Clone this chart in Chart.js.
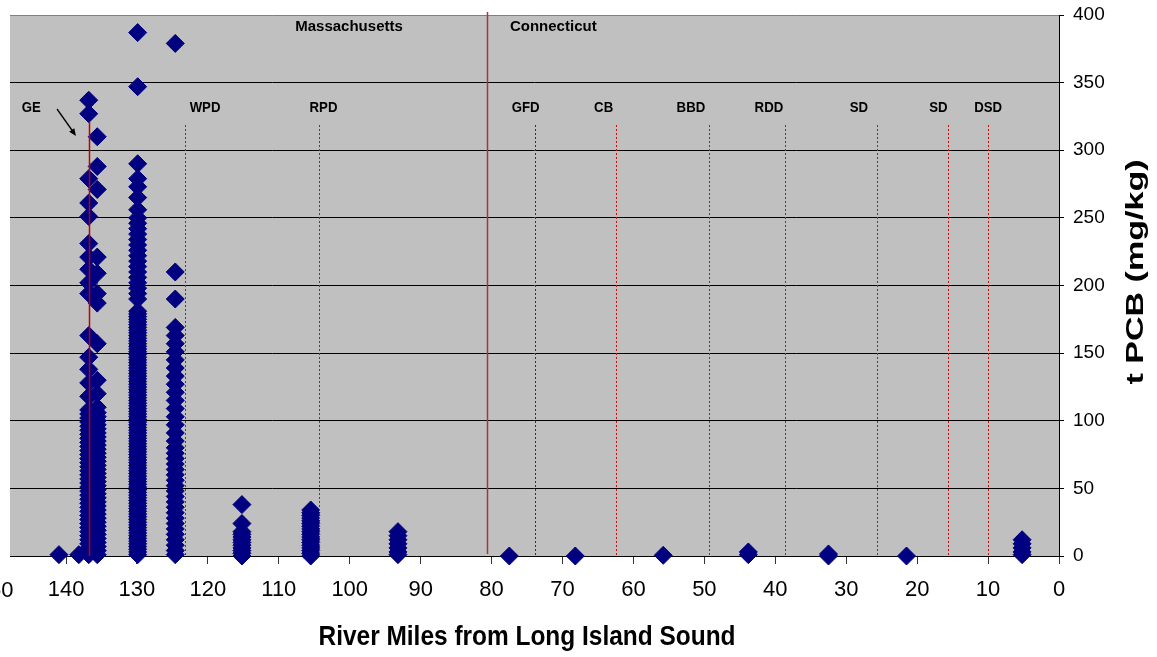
<!DOCTYPE html>
<html><head><meta charset="utf-8">
<script src="https://cdn.jsdelivr.net/npm/chart.js@4.4.1/dist/chart.umd.min.js"></script>
<style>html,body{margin:0;padding:0;background:#fff;}canvas{display:block;}</style>
</head><body>
<canvas id="c" width="1157" height="657"></canvas>
<script>
// ---- Data (river mile of each sampling station, tPCB values mg/kg) ----
const stationMiles = [141.0, 138.2, 136.8, 135.6, 129.9, 124.6, 115.2, 105.5, 93.2, 77.5, 68.2, 55.8, 43.8, 32.5, 21.5, 5.2];
const pcbRM141 = [1];
const pcbRM138 = [1];
const pcbRM137a = [337,327,279,261,251,231,221,212,202,194,163,147,138,128,118,108,105,102,99,96,93,90,87,84,81,78,75,72,69,66,63,60,57,54,51,48,45,42,39,36,33,30,27,24,21,18,15,12,9,6,3,1];
const pcbRM136b = [310,288,271,221,209,194,187,157,130,120,110,106,103,100,97,94,91,88,85,82,79,76,73,70,67,64,61,58,55,52,49,46,43,40,37,34,31,28,25,22,19,16,13,10,7,4,1];
const pcbRM130 = [387,347,290,279,273,265,256,250,246,242,238,234,230,226,222,218,214,210,206,202,198,194,190,181,179,177,175,173,171,169,167,165,163,161,159,157,155,153,151,149,147,145,143,141,139,137,135,133,131,129,127,125,123,121,119,117,115,113,111,109,107,105,103,101,99,97,95,93,91,89,87,85,83,81,79,77,75,73,71,69,67,65,63,61,59,57,55,53,51,49,47,45,43,41,39,37,35,33,31,29,27,25,23,21,19,17,15,13,11,9,7,5,3,1];
const pcbRM125 = [379,210,190,169,163,157,151,145,139,133,127,121,115,109,103,97,91,85,80,76,72,68,64,60,56,52,48,44,40,36,32,28,24,20,16,12,8,4,1];
const pcbRM115 = [38,24,18,16,14,12,10,8,6,4,2,0];
const pcbRM105 = [34,32,30,28,26,24,22,20,18,16,14,12,10,8,6,4,2,0];
const pcbRM93 = [18,15,12,9,6,3,1];
const pcbRM77 = [0];
const pcbRM68 = [0];
const pcbRM56 = [0.5];
const pcbRM44 = [1,3];
const pcbRM32 = [0,1.5];
const pcbRM21 = [0];
const pcbRM5 = [12,9,6,3,1];
const stationValues = [pcbRM141,pcbRM138,pcbRM137a,pcbRM136b,pcbRM130,pcbRM125,pcbRM115,pcbRM105,pcbRM93,pcbRM77,pcbRM68,pcbRM56,pcbRM44,pcbRM32,pcbRM21,pcbRM5];

// axis ticks
const xTickLabels = [0,10,20,30,40,50,60,70,80,90,100,110,120,130,140,150];
const yTickLabels = [0,50,100,150,200,250,300,350,400];

// reference lines / labels (river miles)
const geMile = 136.8;
const stateLineMile = 80.6;
const damLineMiles = [123.2, 104.4, 73.9, 62.5, 49.4, 38.6, 25.6, 15.6, 10.0];
const damLabels = ['GE','WPD','RPD','GFD','CB','BBD','RDD','SD','SD','DSD'];
const damLabelMiles = [144.9, 120.4, 103.7, 75.2, 64.2, 51.9, 40.9, 28.2, 17.0, 10.0];
const stateLabels = ['Massachusetts','Connecticut'];
const stateLabelMiles = [100.1, 71.3];

const points = [];
stationMiles.forEach((m,i)=>stationValues[i].forEach(v=>points.push({x:m,y:v})));

const SANS = "'Liberation Sans', Arial, sans-serif";

function drawScaled(ctx, text, x, y, font, sx, rot){
  ctx.save(); ctx.font = font; ctx.translate(x,y); if(rot) ctx.rotate(rot);
  ctx.scale(sx,1); ctx.textAlign='center'; ctx.textBaseline='middle'; ctx.fillStyle='#000';
  ctx.fillText(text,0,0); ctx.restore();
}
function drawFit(ctx, text, x, y, font, width, rot){
  ctx.save(); ctx.font = font; const w = ctx.measureText(text).width; ctx.restore();
  drawScaled(ctx, text, x, y, font, width/w, rot);
}

const overlay = {
  id:'overlay',
  beforeDraw(chart){
    const {ctx, chartArea:a} = chart;
    ctx.save(); ctx.fillStyle='#C0C0C0';
    ctx.fillRect(a.left, a.top, a.right-a.left, a.bottom-a.top); ctx.restore();
  },
  afterDatasetsDraw(chart){
    const {ctx, chartArea:a, scales:{x,y}} = chart;
    ctx.save();
    ctx.lineWidth = 1; ctx.setLineDash([2,2]);
    damLineMiles.forEach((m,i)=>{
      const px = Math.round(x.getPixelForValue(m))+0.5;
      ctx.strokeStyle = (i===2) ? '#333333' : '#CC1010';
      ctx.beginPath(); ctx.moveTo(px, Math.round(y.getPixelForValue(319))); ctx.lineTo(px, a.bottom); ctx.stroke();
    });
    ctx.setLineDash([]);
    let px = Math.round(x.getPixelForValue(geMile))+0.5;
    ctx.strokeStyle='#C00000'; ctx.lineWidth=1.5;
    ctx.beginPath(); ctx.moveTo(px, y.getPixelForValue(321)); ctx.lineTo(px, a.bottom); ctx.stroke();
    px = Math.round(x.getPixelForValue(stateLineMile))+0.5;
    ctx.strokeStyle='#A03A3A'; ctx.lineWidth=1.5;
    ctx.beginPath(); ctx.moveTo(px, a.top-3); ctx.lineTo(px, a.bottom-2); ctx.stroke();
    const ax0 = 57, ay0 = 109, ax1 = 76, ay1 = 136;
    ctx.strokeStyle='#000'; ctx.fillStyle='#000'; ctx.lineWidth=1.3;
    ctx.beginPath(); ctx.moveTo(ax0,ay0); ctx.lineTo(ax1-2,ay1-3); ctx.stroke();
    const ang = Math.atan2(ay1-ay0, ax1-ax0);
    ctx.beginPath(); ctx.moveTo(ax1,ay1);
    ctx.lineTo(ax1-8*Math.cos(ang-0.4), ay1-8*Math.sin(ang-0.4));
    ctx.lineTo(ax1-8*Math.cos(ang+0.4), ay1-8*Math.sin(ang+0.4));
    ctx.closePath(); ctx.fill();
    ctx.restore();
    damLabels.forEach((t,i)=>drawScaled(ctx, t, x.getPixelForValue(damLabelMiles[i]), y.getPixelForValue(331), "bold 15px "+SANS, 0.88));
    stateLabels.forEach((t,i)=>drawScaled(ctx, t, x.getPixelForValue(stateLabelMiles[i]), y.getPixelForValue(391), "bold 15px "+SANS, 1));
  },
  afterDraw(chart){
    const {ctx, scales:{x,y}} = chart;
    ctx.save(); ctx.font = "22px "+SANS; ctx.fillStyle='#000'; ctx.textAlign='center'; ctx.textBaseline='middle';
    ctx.fillText(String(xTickLabels[15]), x.getPixelForValue(150), 591); ctx.restore();
    drawFit(ctx, 'River Miles from Long Island Sound', 527, 637, "bold 28px "+SANS, 417, 0);
    drawFit(ctx, 't PCB (mg/kg)', 1136, 272, "bold 24px "+SANS, 225, -Math.PI/2);
  }
};

new Chart(document.getElementById('c'), {
  type:'scatter',
  data:{datasets:[{
    data: points, pointStyle:'rectRot', radius:9, hoverRadius:9,
    backgroundColor:'#000080', borderColor:'#000080', borderWidth:1, clip:false
  }]},
  options:{
    responsive:false, animation:false, devicePixelRatio:1,
    layout:{padding:{left:9, top:15, right:0, bottom:0}},
    plugins:{legend:{display:false}, tooltip:{enabled:false}},
    scales:{
      x:{
        type:'linear', reverse:true, min:0, max:147.9,
        afterFit(s){ s.height = 101; s.paddingLeft = 0; s.paddingRight = 0; },
        ticks:{stepSize:10, includeBounds:false, autoSkip:false, maxRotation:0, padding:13,
          font:{family:SANS, size:22}, color:'#000',
          callback:(v)=> xTickLabels.includes(v) ? String(v) : ''},
        grid:{drawOnChartArea:false, drawTicks:true, tickLength:8, tickColor:'#333', color:'#333'},
        border:{display:true, color:'#000', width:1}
      },
      y:{
        position:'right', min:0, max:400,
        afterFit(s){ s.width = 98; s.paddingTop = 0; s.paddingBottom = 0; },
        ticks:{stepSize:50, padding:9, font:{family:SANS, size:19}, color:'#000',
          callback:(v)=> yTickLabels.includes(v) ? String(v) : ''},
        grid:{color:(c)=> c.tick && c.tick.value===400 ? '#808080' : '#000', lineWidth:1, drawTicks:true, tickLength:5, tickColor:'#000'},
        border:{display:true, color:'#000', width:1}
      }
    }
  },
  plugins:[overlay]
});
</script>
</body></html>
